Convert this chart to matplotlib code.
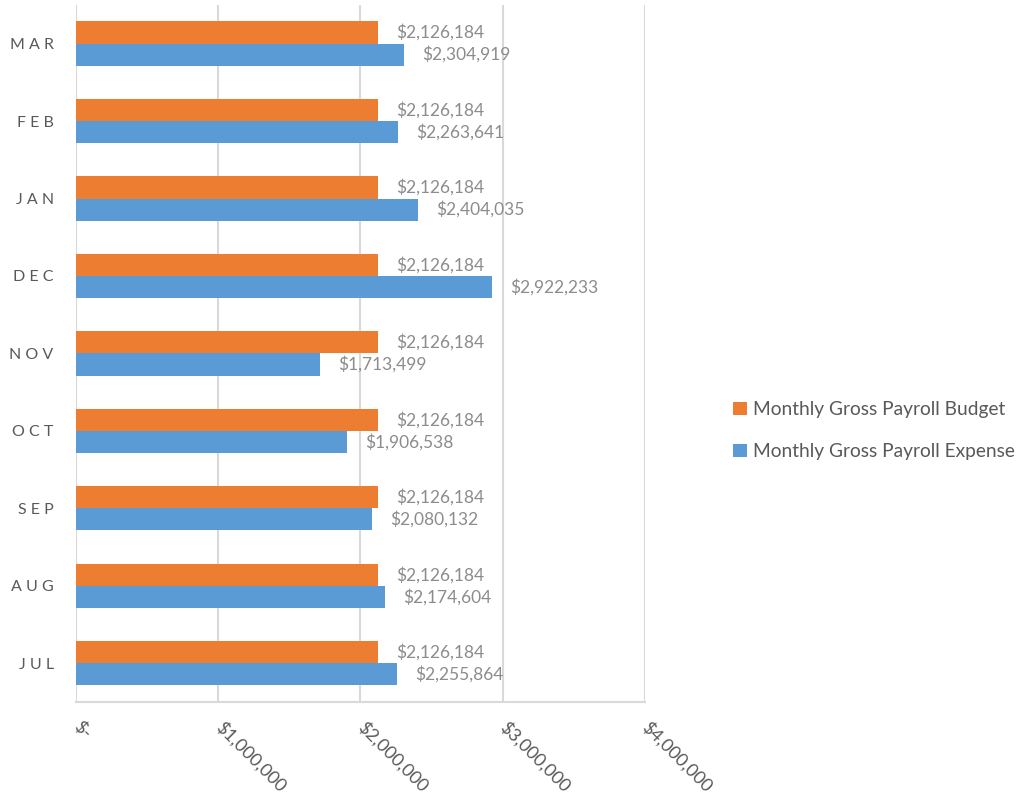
import numpy as np
import matplotlib
matplotlib.use("Agg")
import matplotlib.pyplot as plt
from matplotlib.ticker import FuncFormatter

plt.rcParams['font.family'] = ['Lato', 'DejaVu Sans']

months = ["JUL", "AUG", "SEP", "OCT", "NOV", "DEC", "JAN", "FEB", "MAR"]
budget = [2126184, 2126184, 2126184, 2126184, 2126184, 2126184, 2126184, 2126184, 2126184]
expense = [2255864, 2174604, 2080132, 1906538, 1713499, 2922233, 2404035, 2263641, 2304919]
x_ticks = [0, 1000000, 2000000, 3000000, 4000000]

orange = '#ED7D31'
blue = '#5B9BD5'
grid_c = '#D9D9D9'
label_c = '#8C8C8C'
tick_c = '#595959'

fig = plt.figure(figsize=(10.32, 8.07), dpi=100)
ax = fig.add_axes([0.0736, 0.130, 0.5514, 0.864])

y = np.arange(len(months))
h = 0.285
ax.barh(y - h / 2, expense, height=h, color=blue, label='Monthly Gross Payroll Expense', zorder=3)
ax.barh(y + h / 2, budget, height=h, color=orange, label='Monthly Gross Payroll Budget', zorder=3)

for i in range(len(months)):
    ax.annotate("${:,}".format(budget[i]), (budget[i], y[i] + h / 2),
                textcoords="offset points", xytext=(13, 0), va='center', ha='left',
                fontsize=12.5, color=label_c)
    ax.annotate("${:,}".format(expense[i]), (expense[i], y[i] - h / 2),
                textcoords="offset points", xytext=(13, 0), va='center', ha='left',
                fontsize=12.5, color=label_c)

ax.set_xlim(0, 4000000)
ax.set_ylim(-0.5, len(months) - 0.5)
ax.set_xticks(x_ticks)
ax.xaxis.set_major_formatter(FuncFormatter(lambda v, p: "$-" if v == 0 else "${:,.0f}".format(v)))
ax.grid(axis='x', color=grid_c, linewidth=1.5, zorder=0)
ax.set_yticks(y)
ax.set_yticklabels([" ".join(m) for m in months], fontsize=11.5, color=tick_c)
ax.tick_params(axis='y', length=0, pad=16)
ax.tick_params(axis='x', length=0, pad=16, labelsize=13, colors=tick_c)
for lbl in ax.get_xticklabels():
    lbl.set_rotation(-45)
    lbl.set_ha('left')
    lbl.set_va('center')
    lbl.set_rotation_mode('anchor')

for s in ['top', 'right', 'left']:
    ax.spines[s].set_visible(False)
ax.spines['bottom'].set_color(grid_c)
ax.spines['bottom'].set_linewidth(1.5)

handles, labels = ax.get_legend_handles_labels()
fig.legend(handles[::-1], labels[::-1], loc='center left', bbox_to_anchor=(0.694, 0.466),
           frameon=False, fontsize=13.8, handlelength=0.7, handleheight=0.7,
           handletextpad=0.3, labelspacing=1.3, labelcolor=tick_c)

fig.savefig("out.png", dpi=100)
